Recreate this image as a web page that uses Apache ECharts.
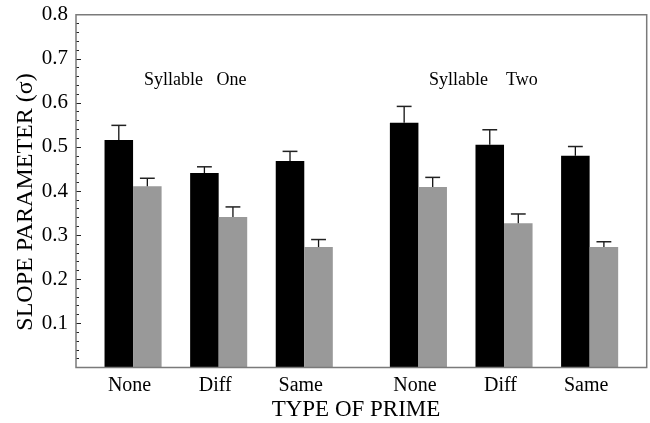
<!DOCTYPE html>
<html>
<head>
<meta charset="utf-8">
<script src="https://cdn.jsdelivr.net/npm/echarts@6/dist/echarts.min.js"></script>
<style>html,body{margin:0;padding:0;background:#fff;}#c{width:650px;height:423px;}</style>
</head>
<body>
<div id="c"></div>
<script>
// ---- data ----
const categories = ['None', 'Diff', 'Same'];
const sylOneBlack = [0.516, 0.441, 0.468];
const sylOneBlackErr = [0.033, 0.014, 0.022];
const sylOneGray = [0.411, 0.341, 0.273];
const sylOneGrayErr = [0.018, 0.023, 0.017];
const sylTwoBlack = [0.555, 0.505, 0.480];
const sylTwoBlackErr = [0.037, 0.034, 0.021];
const sylTwoGray = [0.409, 0.327, 0.273];
const sylTwoGrayErr = [0.022, 0.021, 0.012];
const yTicks = [0.1, 0.2, 0.3, 0.4, 0.5, 0.6, 0.7, 0.8];
const groupLabels = ['Syllable   One', 'Syllable    Two'];

// ---- layout ----
const FONT = "'Liberation Serif','Times New Roman',serif";
const plotLeft = 76, plotRight = 646.7, plotTop = 14.7, plotBottom = 367.4;
const unit = (plotRight - plotLeft) / 20;
const gTop = plotTop, gHeight = plotBottom - plotTop;

const chart = echarts.init(document.getElementById('c'), null, {renderer: 'canvas'});

function errSeries(gi, side, vals, errs) {
  return {
    type: 'custom', xAxisIndex: gi, yAxisIndex: gi, z: 5,
    data: vals.map((v, i) => [i, v, errs[i]]),
    renderItem: function (params, api) {
      const band = api.size([1, 0])[0];
      const bw = band / 3;
      const c = api.coord([api.value(0), api.value(1)]);
      const t = api.coord([api.value(0), api.value(1) + api.value(2)]);
      const x = c[0] + side * bw / 2;
      const hw = bw * 0.26;
      return {
        type: 'group',
        children: [
          {type: 'line', shape: {x1: x, y1: c[1], x2: x, y2: t[1]}, style: {stroke: '#111', lineWidth: 1.3}},
          {type: 'line', shape: {x1: x - hw, y1: t[1], x2: x + hw, y2: t[1]}, style: {stroke: '#222', lineWidth: 1.5}}
        ]
      };
    }
  };
}

function barSeries(gi, vals, color) {
  return {
    type: 'bar', xAxisIndex: gi, yAxisIndex: gi, data: vals,
    barWidth: unit, barGap: '0%', itemStyle: {color: color}, silent: true
  };
}

const subX = (gi) => ({
  type: 'category', gridIndex: gi, data: categories,
  axisLine: {show: false}, axisTick: {show: false},
  axisLabel: {fontFamily: FONT, fontSize: 20, color: '#000', margin: 8, padding: [0, 7, 0, 0]}
});
const subY = (gi) => ({type: 'value', gridIndex: gi, min: 0, max: 0.8, show: false});

const option = {
  animation: false,
  backgroundColor: '#fff',
  grid: [
    {left: plotLeft, top: gTop, width: plotRight - plotLeft, height: gHeight, show: true, borderColor: '#7a7a7a', borderWidth: 1.5, z: 10},
    {left: plotLeft + 0.5 * unit, top: gTop, width: 9 * unit, height: gHeight},
    {left: plotLeft + 10.5 * unit, top: gTop, width: 9 * unit, height: gHeight}
  ],
  xAxis: [
    {type: 'value', gridIndex: 0, min: 0, max: 20, show: false},
    subX(1), subX(2)
  ],
  yAxis: [
    {
      type: 'value', gridIndex: 0, min: 0, max: 0.8, interval: 0.1,
      axisLine: {show: false},
      axisTick: {show: true, inside: true, length: 5, lineStyle: {color: '#222', width: 1}},
      minorTick: {show: true, splitNumber: 5, length: 3, lineStyle: {color: '#222', width: 1}},
      splitLine: {show: false}, minorSplitLine: {show: false},
      axisLabel: {
        fontFamily: FONT, fontSize: 21, color: '#000', margin: 8,
        formatter: function (v) {
          const hit = yTicks.find(t => Math.abs(t - v) < 1e-6);
          return hit === undefined ? '' : hit.toFixed(1);
        }
      }
    },
    subY(1), subY(2)
  ],
  graphic: [
    {type: 'text', left: 144, top: 71, style: {text: groupLabels[0], font: '18px ' + FONT, fill: '#000'}},
    {type: 'text', left: 429, top: 71, style: {text: groupLabels[1], font: '18px ' + FONT, fill: '#000'}},
    {type: 'text', x: 356, y: 410, style: {text: 'TYPE OF PRIME', font: '23px ' + FONT, fill: '#000', align: 'center', verticalAlign: 'middle'}},
    {type: 'text', x: 26, y: 202, rotation: Math.PI / 2, style: {text: 'SLOPE PARAMETER (σ)', font: '24px ' + FONT, fill: '#000', align: 'center', verticalAlign: 'middle'}}
  ],
  series: [
    barSeries(1, sylOneBlack, '#000'), barSeries(1, sylOneGray, '#999'),
    barSeries(2, sylTwoBlack, '#000'), barSeries(2, sylTwoGray, '#999'),
    errSeries(1, -1, sylOneBlack, sylOneBlackErr), errSeries(1, 1, sylOneGray, sylOneGrayErr),
    errSeries(2, -1, sylTwoBlack, sylTwoBlackErr), errSeries(2, 1, sylTwoGray, sylTwoGrayErr)
  ]
};
chart.setOption(option);
</script>
</body>
</html>
